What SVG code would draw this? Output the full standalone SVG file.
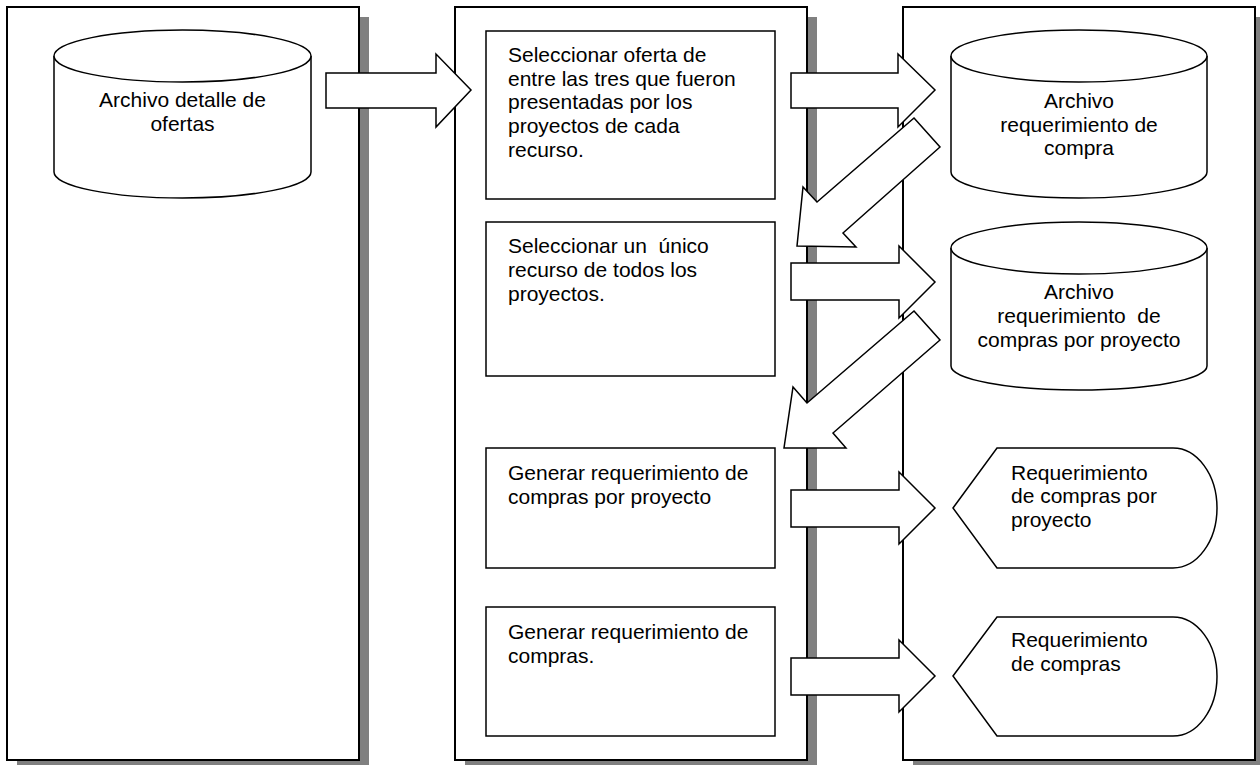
<svg xmlns="http://www.w3.org/2000/svg" width="1260" height="765" viewBox="0 0 1260 765">
<style>
.shadow{fill:#808080;stroke:none}
.panel{fill:#fff;stroke:#000;stroke-width:2}
.shape{fill:#fff;stroke:#000;stroke-width:1.5}
.arrow{fill:#fff;stroke:#000;stroke-width:1.5;stroke-linejoin:miter}
text{font-family:"Liberation Sans",Arial,sans-serif;font-size:21px;fill:#000;white-space:pre}
.c{text-anchor:middle}
</style>
<rect width="1260" height="765" fill="#fff"/>
<g id="panel-1">
<rect class="shadow" x="17" y="17" width="352" height="753"/>
<rect class="panel" x="7" y="7" width="352" height="753"/>
</g>
<g id="panel-2">
<rect class="shadow" x="465" y="17" width="352" height="753"/>
<rect class="panel" x="455" y="7" width="352" height="753"/>
</g>
<g id="panel-3">
<rect class="shadow" x="913" y="17" width="352" height="753"/>
<rect class="panel" x="903" y="7" width="352" height="753"/>
</g>
<g id="cyl-ofertas">
<path class="shape" d="M54,56 A128.5,26 0 0 1 311,56 L311,172 A128.5,26 0 0 1 54,172 Z"/>
<path class="shape" fill="none" d="M54,56 A128.5,26 0 0 0 311,56"/>
<text class="c" x="182.5" y="107">Archivo detalle de</text>
<text class="c" x="182.5" y="131">ofertas</text>
</g>
<g id="box-seleccionar-oferta">
<rect class="shape" x="486" y="31" width="289" height="168"/>
<text x="508" y="62">Seleccionar oferta de</text>
<text x="508" y="85.7">entre las tres que fueron</text>
<text x="508" y="109.4">presentadas por los</text>
<text x="508" y="133.1">proyectos de cada</text>
<text x="508" y="156.8">recurso.</text>
</g>
<g id="box-seleccionar-recurso">
<rect class="shape" x="486" y="222" width="289" height="154"/>
<text x="508" y="253.3">Seleccionar un  único</text>
<text x="508" y="277.3">recurso de todos los</text>
<text x="508" y="301">proyectos.</text>
</g>
<g id="box-generar-proyecto">
<rect class="shape" x="486" y="448" width="289" height="120"/>
<text x="508" y="479.5">Generar requerimiento de</text>
<text x="508" y="503.5">compras por proyecto</text>
</g>
<g id="box-generar-compras">
<rect class="shape" x="486" y="607" width="289" height="129"/>
<text x="508" y="638.5">Generar requerimiento de</text>
<text x="508" y="662.5">compras.</text>
</g>
<g id="cyl-req-compra">
<path class="shape" d="M951,56 A128,26 0 0 1 1207,56 L1207,172 A128,26 0 0 1 951,172 Z"/>
<path class="shape" fill="none" d="M951,56 A128,26 0 0 0 1207,56"/>
<text class="c" x="1079" y="108.3">Archivo</text>
<text class="c" x="1079" y="131.7">requerimiento de</text>
<text class="c" x="1079" y="155">compra</text>
</g>
<g id="cyl-req-proyecto">
<path class="shape" d="M951,248 A128,26 0 0 1 1207,248 L1207,366 A128,24 0 0 1 951,366 Z"/>
<path class="shape" fill="none" d="M951,248 A128,26 0 0 0 1207,248"/>
<text class="c" x="1079" y="299">Archivo</text>
<text class="c" x="1079" y="323">requerimiento  de</text>
<text class="c" x="1079" y="347">compras por proyecto</text>
</g>
<g id="display-req-proyecto">
<path class="shape" d="M953,508 L997,448 L1173,448 A44,60 0 0 1 1173,568 L997,568 Z"/>
<text x="1011" y="479.5">Requerimiento</text>
<text x="1011" y="503">de compras por</text>
<text x="1011" y="527">proyecto</text>
</g>
<g id="display-req-compras">
<path class="shape" d="M953,676 L997,617 L1173,617 A44,59.5 0 0 1 1173,736 L997,736 Z"/>
<text x="1011" y="647">Requerimiento</text>
<text x="1011" y="671">de compras</text>
</g>
<g id="connectors">
<polygon class="arrow" points="326,73 436,73 436,54 471,90 436,127 436,108 326,108"/>
<polygon class="arrow" points="791,73 898,73 898,54 935,90 898,127 898,108 791,108"/>
<polygon class="arrow" points="914,118 940,147 843,233 856,247 797,246 803,187 817,202"/>
<polygon class="arrow" points="791,263 899,263 899,246 935,282 899,318 899,300 791,300"/>
<polygon class="arrow" points="914,311 940,340 833,433 846,448 784,448 793,387 807,403"/>
<polygon class="arrow" points="791,490 899,490 899,472 935,508 899,544 899,527 791,527"/>
<polygon class="arrow" points="791,658 899,658 899,640 935,676 899,712 899,695 791,695"/>
</g>
</svg>
